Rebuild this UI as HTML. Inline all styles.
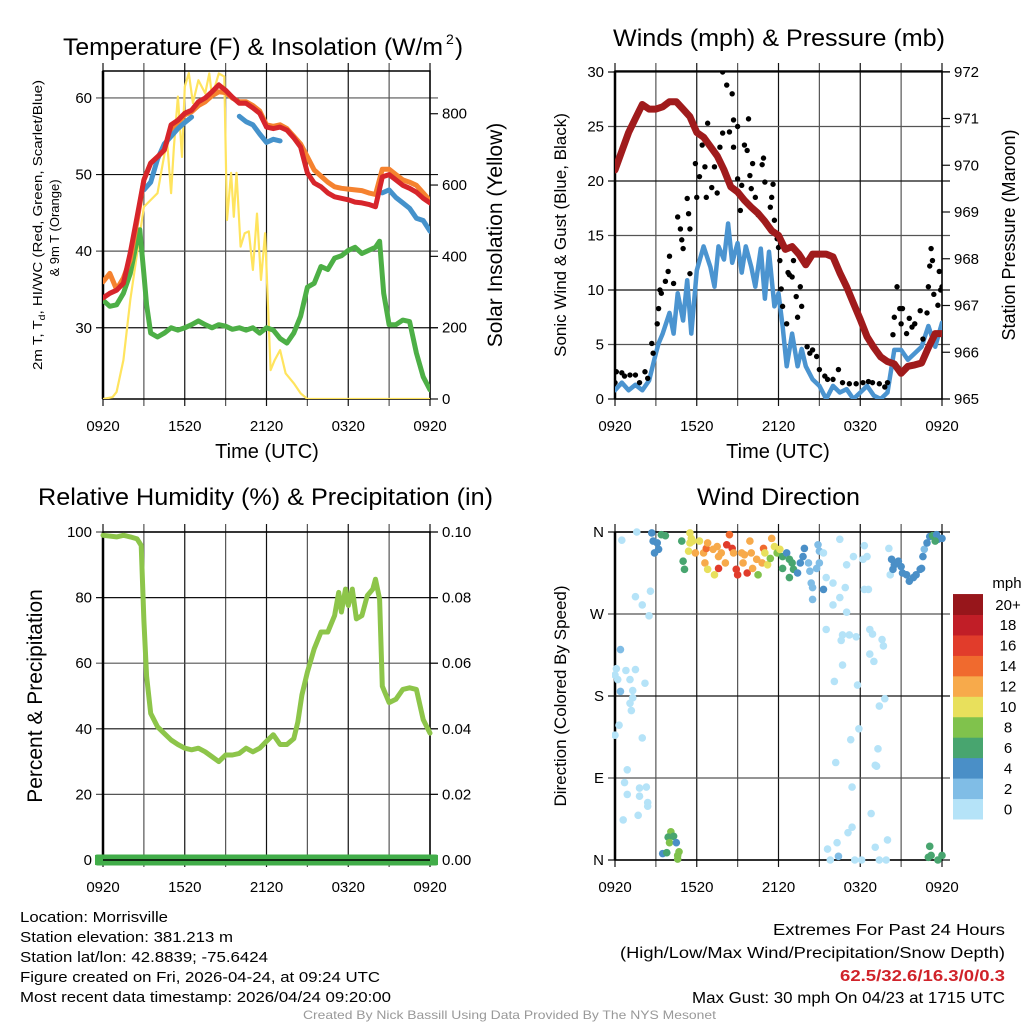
<!DOCTYPE html>
<html><head><meta charset="utf-8"><style>
html,body{margin:0;padding:0;background:#fff;}
svg{display:block;font-family:"Liberation Sans",Arial,sans-serif;}
</style></head><body>
<svg id="fig" width="1024" height="1024" viewBox="0 0 1024 1024" xmlns="http://www.w3.org/2000/svg">
<rect width="1024" height="1024" fill="#fff"/>
<defs>
<clipPath id="c1"><rect x="103" y="71" width="327" height="328"/></clipPath>
<clipPath id="c2"><rect x="615" y="71" width="327" height="328"/></clipPath>
<clipPath id="c3"><rect x="95" y="525" width="343" height="345"/></clipPath>
<clipPath id="c4"><rect x="612" y="528" width="334" height="336"/></clipPath>
</defs>
<g id="layer"></g>
<!-- titles -->
<text x="63" y="55" font-size="24" textLength="380" lengthAdjust="spacingAndGlyphs">Temperature (F) &amp; Insolation (W/m</text>
<text x="446" y="44" font-size="14">2</text>
<text x="455" y="55" font-size="24">)</text>
<text x="613" y="46" font-size="24" textLength="332" lengthAdjust="spacingAndGlyphs">Winds (mph) &amp; Pressure (mb)</text>
<text x="38" y="505" font-size="24" textLength="455" lengthAdjust="spacingAndGlyphs">Relative Humidity (%) &amp; Precipitation (in)</text>
<text x="697" y="505" font-size="24" textLength="163" lengthAdjust="spacingAndGlyphs">Wind Direction</text>
<!-- axis titles -->
<text x="267" y="458" font-size="20" text-anchor="middle">Time (UTC)</text>
<text x="778" y="458" font-size="20" text-anchor="middle">Time (UTC)</text>
<text transform="translate(42,370) rotate(-90)" font-size="13" textLength="290" lengthAdjust="spacingAndGlyphs">2m T, T<tspan font-size="9" dy="3">d</tspan><tspan dy="-3">, HI/WC (Red, Green, Scarlet/Blue)</tspan></text>
<text transform="translate(59,228) rotate(-90)" font-size="13" text-anchor="middle">&amp; 9m T (Orange)</text>
<text transform="translate(502,235) rotate(-90)" font-size="21" text-anchor="middle">Solar Insolation (Yellow)</text>
<text transform="translate(566,235) rotate(-90)" font-size="17" text-anchor="middle">Sonic Wind &amp; Gust (Blue, Black)</text>
<text transform="translate(1015,235) rotate(-90)" font-size="18" text-anchor="middle">Station Pressure (Maroon)</text>
<text transform="translate(42,696) rotate(-90)" font-size="21" text-anchor="middle">Percent &amp; Precipitation</text>
<text transform="translate(566,696) rotate(-90)" font-size="17" text-anchor="middle">Direction (Colored By Speed)</text>
<text x="1007" y="588" font-size="15" text-anchor="middle">mph</text>
<!-- footer -->
<g font-size="15">
<text x="20" y="922" textLength="148" lengthAdjust="spacingAndGlyphs">Location: Morrisville</text>
<text x="20" y="942" textLength="213" lengthAdjust="spacingAndGlyphs">Station elevation: 381.213 m</text>
<text x="20" y="962" textLength="248" lengthAdjust="spacingAndGlyphs">Station lat/lon: 42.8839; -75.6424</text>
<text x="20" y="982" textLength="360" lengthAdjust="spacingAndGlyphs">Figure created on Fri, 2026-04-24, at 09:24 UTC</text>
<text x="20" y="1002" textLength="371" lengthAdjust="spacingAndGlyphs">Most recent data timestamp: 2026/04/24 09:20:00</text>
</g>
<g font-size="16">
<text x="773" y="935" textLength="232" lengthAdjust="spacingAndGlyphs">Extremes For Past 24 Hours</text>
<text x="620" y="958" textLength="385" lengthAdjust="spacingAndGlyphs">(High/Low/Max Wind/Precipitation/Snow Depth)</text>
<text x="840" y="981" fill="#d0232a" font-weight="bold" textLength="165" lengthAdjust="spacingAndGlyphs">62.5/32.6/16.3/0/0.3</text>
<text x="692" y="1003" textLength="313" lengthAdjust="spacingAndGlyphs">Max Gust: 30 mph On 04/23 at 1715 UTC</text>
</g>
<text x="303" y="1019" font-size="12" fill="#999" textLength="413" lengthAdjust="spacingAndGlyphs">Created By Nick Bassill Using Data Provided By The NYS Mesonet</text>
</svg>
<script>
// ---------- data ----------
const xTickLabels = ["0920","1520","2120","0320","0920"];
const xTickHours = [0,6,12,18,24];
const tempTicks = [30,40,50,60];
const solarTicks = [0,200,400,600,800];
const windTicks = [0,5,10,15,20,25,30];
const pressureTicks = [965,966,967,968,969,970,971,972];
const rhTicks = [0,20,40,60,80,100];
const precipTickLabels = ["0.00","0.02","0.04","0.06","0.08","0.10"];
const dirTickLabels = ["N","E","S","W","N"];
const dirTickValues = [0,90,180,270,360];
const colorbarLabels = ["0","2","4","6","8","10","12","14","16","18","20+"];

const halfHours = [0,0.5,1,1.5,2,2.5,3,3.5,4,4.5,5,5.5,6,6.5,7,7.5,8,8.5,9,9.5,10,10.5,11,11.5,12,12.5,13,13.5,14,14.5,15,15.5,16,16.5,17,17.5,18,18.5,19,19.5,20,20.5,21,21.5,22,22.5,23,23.5,24];
const temp2m = [33.9,34.5,34.9,35.8,39.8,44.5,49.3,51.5,52.3,53.2,56.5,57.1,58,58.4,59.5,60,60.8,61.7,61,60.1,59.3,59.3,58.7,58,56.2,56,56.2,55.8,54.8,53.6,50.2,48.9,48.4,47.6,47.1,46.9,46.7,46.4,46.3,46.1,45.8,49.7,50,49.3,48.6,48.2,47.7,46.9,46.3];
const temp9m = [36,37.1,35,36.5,38.9,44,49.3,51.5,52.3,53.2,56,56.8,57.8,58.2,59,59.5,60.3,60.8,60.7,60,59.5,59.5,59,58.3,56.5,56.3,56.5,56,55,54,52.3,50.6,49.8,49,48.4,48.2,48.1,48,47.9,47.6,47.4,50.7,50.7,50,49.3,49,48.6,47.6,46.6];
const heatChill = [null,null,null,null,null,null,48,49,52,54,55,56,56.8,57.5,null,null,null,null,null,null,57.6,56.9,56.5,55.3,54.2,54.6,54.4,null,null,null,null,null,null,null,null,null,null,null,null,null,null,47.6,48,47,46.3,45.6,44.3,44,42.6];
const dewHours = [0,0.5,1,1.5,2,2.5,2.7,3,3.2,3.5,4,4.5,5,5.5,6,6.5,7,7.5,8,8.5,9,9.5,10,10.5,11,11.5,12,12.5,13,13.5,14,14.5,15,15.5,16,16.5,17,17.5,18,18.5,19,19.5,20,20.3,20.6,21,21.5,22,22.5,23,23.5,24];
const dewpoint = [33.6,32.8,33,34.5,37.1,41.5,42.8,37,33,29.3,28.8,29.3,30,29.7,30,30.4,30.9,30.4,30,30.4,30.2,29.8,30,29.7,30,29.3,30,29.7,28.6,28,29.3,31.5,35.3,35.8,38,37.6,39.1,39.4,40.1,40.5,39.7,40.1,40.5,41.3,34.5,30.4,30.4,31,30.8,26.7,23.6,21.9];
const solarHours = [0,0.7,1,1.5,2,2.5,3,3.5,4,4.3,4.7,5,5.2,5.5,5.8,6,6.3,6.6,7,7.5,7.8,8,8.5,8.9,9.1,9.4,9.6,9.8,10.1,10.4,10.7,11,11.3,11.6,11.9,12.3,12.6,13,13.4,14,14.5,15,24];
const solar = [0,5,20,109,278,409,539,558,577,642,726,577,707,848,679,876,914,830,894,857,913,848,913,904,502,634,511,634,427,465,470,362,520,334,465,81,109,137,72,44,16,0,0];

const pressure = [969.9,970.3,970.7,971.0,971.3,971.2,971.2,971.25,971.36,971.36,971.2,971.04,970.7,970.6,970.4,970.2,969.9,969.54,969.43,969.25,969.1,968.97,968.8,968.6,968.5,968.2,968.26,968.1,967.87,968.1,968.1,968.1,968.04,967.7,967.4,967.05,966.7,966.33,966.1,965.9,965.8,965.75,965.55,965.7,965.73,965.77,966.1,966.4,966.4];
const windHours = [0,0.5,1,1.5,2,2.5,3,3.2,3.5,4,4.3,4.6,5,5.3,5.6,6,6.5,7,7.3,7.6,8,8.3,8.6,9,9.3,9.6,10,10.3,10.7,11,11.3,11.7,12,12.3,12.6,13,13.4,13.7,14,14.5,15,15.5,16,16.5,17,17.5,18,18.5,19,19.5,20,20.5,21,21.5,22,22.5,23,23.5,24];
const windSpeed = [0.8,1.5,0.8,1.3,0.8,1.7,4.2,5.1,6,7.9,6,9.7,7.2,10.9,6,11.8,14,12.1,10.3,14,12.8,16.1,12.5,14.3,11.6,14,12.1,10.3,13.8,9.2,13.5,8.5,9.7,6.7,3,6,3,4.6,3,1.8,1.2,0,1.2,0.6,0.9,0,0.6,1.2,0.3,0,0.6,4.5,4.5,3.6,4.2,4.8,6.7,4.8,7];
const gustHours = [0,0.1,0.5,0.7,1.1,1.5,1.8,2.2,2.4,2.7,2.8,3.1,3.2,3.3,3.4,3.7,3.9,4.0,4.3,4.6,4.8,4.9,5.0,5.3,5.4,5.5,5.5,5.9,6.0,6.2,6.4,6.6,6.7,6.8,7.1,7.3,7.5,7.7,7.9,8.2,7.9,8.4,8.6,8.7,8.7,9.0,9.0,9.2,9.3,9.5,9.7,9.8,9.9,10.0,10.1,10.3,10.5,10.8,10.9,11.0,11.4,11.5,11.6,11.7,11.9,12.0,12.1,12.2,12.3,12.6,12.7,12.8,13.0,13.1,13.3,13.4,13.6,13.7,14.1,14.3,14.5,14.8,15.0,15.4,15.6,16.0,16.4,16.7,17.2,17.7,18.2,18.6,18.9,19.4,19.8,20.0,20.4,20.5,20.7,20.9,21.0,21.1,21.4,21.6,21.8,22.0,22.4,22.6,22.9,23.0,23.1,23.2,23.3,23.4,23.7,23.8,23.9,24.0];
const gustSpeed = [1.5,2.5,2.4,2.1,2.2,2.2,1.5,2.5,1.9,5.1,4.2,6.9,8.3,10,9.7,10.8,11.7,13.1,10.6,16.7,15.6,14.6,13.8,18.4,17,15.6,11.5,21.6,18.5,20.4,23.3,21.3,18.5,25.3,19.4,21.3,18.9,23.1,30,28.8,24.4,24.5,28,25.6,23.1,25,20.2,17.3,19.6,23.3,22.8,25.7,20.5,19.3,21.6,18.5,16.9,21.5,22.1,19.9,17.6,18.5,19.7,16.4,14.7,13.9,12.7,10.1,8.5,6.9,11.6,11.4,11.2,12.7,9.4,7.5,10.3,8.5,4.8,4.2,4.5,3.9,2.7,2.1,1.8,1.8,2.7,1.5,1.4,1.4,1.5,1.6,1.5,1.4,1.1,1.5,5.9,7.5,10.3,8.3,6.9,8.3,6,7.4,6.6,6.9,8.1,5.5,7.9,10.3,12.2,13.8,12.7,9.6,8.6,11.7,10,10.3];

const rhHours = [0,1,1.5,2,2.5,2.8,3,3.2,3.5,4,4.5,5,5.5,6,6.5,7,7.5,8,8.5,9,9.5,10,10.5,11,11.5,12,12.5,13,13.5,14,14.3,14.6,15,15.5,16,16.5,17,17.3,17.5,17.8,18,18.3,18.6,19,19.4,19.8,20,20.3,20.5,21,21.5,22,22.5,23,23.5,24];
const rh = [99,98.5,99,98.5,97.9,95.9,73,56,44.7,40.6,38.6,36.6,35.2,34.1,33.6,34.1,33,31.5,30,32,32,32.5,34.1,33,34.1,36.2,38.2,35.2,35.2,37,42,50.3,57.3,64.4,69.5,69.5,74.5,81.6,75.6,82.6,77.6,82.6,73.5,74.5,80.6,82.6,85.6,79.5,53,48,49,52,52.5,52,42.8,38.7];
const precipHours = [-0.4,24.4];
const precip = [0,0];

const dirHours = [0.5,1.6,2.7,2.8,3.1,2.9,3.2,3.4,3.7,1.5,2.0,2.6,2.5,0.4,0.1,0,0.2,0.8,1.1,1.5,0.4,1.3,1.3,1.1,1.2,2.2,0.3,0,2.0,0.9,0.7,0.9,1.8,2.3,1.8,2.4,2.4,1.7,0.6,
 4.1,4.0,3.9,4.3,4.0,4.5,3.5,3.8,4.7,4.6,4.6,
 4.9,5.0,5.1,5.5,5.5,5.4,5.6,5.7,5.9,6.2,6.5,6.6,6.7,6.8,7.2,7.5,7.6,7.6,7.8,8.1,8.2,8.4,8.6,8.7,8.9,9.0,9.3,9.4,9.5,9.7,9.9,10.0,10.1,10.4,10.5,10.8,10.9,11.0,11.2,11.4,11.5,11.7,11.9,12.1,7.3,6.8,
 12.3,12.6,12.8,13.0,12.3,12.8,13.1,13.4,13.6,13.8,13.9,14.2,14.3,14.4,14.5,14.9,15.0,15.3,15.0,14.8,15.3,14.5,15.5,16.0,16.5,16.9,16.5,16.0,17.0,17.5,17.0,18.3,18.5,18.2,18.3,18.6,20.1,20.2,
 15.5,16.6,16.7,17.2,17.7,18.7,18.9,19.6,19.7,18.7,19.0,16.7,16.1,17.8,19.8,19.4,17.9,17.3,19.3,16.2,19.1,19.2,17.4,18.8,17.4,17.1,16.3,15.6,16.4,15.8,17.6,18.1,19.4,19.9,19.1,20.0,
 20.3,20.5,20.8,21.0,20.4,21.1,21.4,21.6,21.9,22.1,22.4,22.5,22.6,22.7,22.9,23.1,23.3,23.6,23.7,24.0,23.5,
 23.1,23.0,23.2,23.7,24.0];
const dirDegrees = [351,360,359,350,348,337,341,357,356,289,280,295,268,231,210,203,198,208,198,209,185,186,178,172,164,194,148,137,134,99,85,72,79,80,70,63,59,49,44,
 31,26,25,26,19,19,7,8,9,5,1,
 350,328,319,359,348,339,353,350,337,350,337,326,342,348,341,344,333,320,337,326,346,357,342,337,319,313,337,326,335,315,350,337,320,330,313,326,342,337,324,331,353,344,337,341,313,319,
 333,337,330,326,320,310,319,315,326,333,342,326,317,304,299,346,339,337,326,320,297,286,310,304,352,299,288,280,272,333,324,345,333,330,297,297,342,313,
 253,241,247,247,245,253,248,242,235,226,218,214,196,192,177,169,144,132,122,107,104,103,80,51,36,30,19,12,4,0,0,0,0,0,14,22,
 330,324,328,322,319,315,313,306,310,313,319,320,333,341,348,355,356,357,352,353,350,
 15,3,5,0,5];
const dirSpeeds = [1,1,4,4,4,4,4,6,6,1,1,1,1,3,1,1,1,1,1,1,3,1,1,1,1,1,1,1,1,1,1,1,1,1,1,1,1,1,1,
 8,8,6,6,8,4,4,6,8,8,8,
 6,6,6,10,10,10,10,10,12,10,12,12,14,12,12,12,12,16,12,12,16,14,16,12,16,16,12,12,12,16,12,12,12,12,8,12,14,10,10,8,12,10,8,10,10,10,
 6,4,6,6,6,6,6,4,4,4,4,3,3,3,3,3,3,1,3,3,4,3,1,1,1,1,1,1,1,1,1,1,1,1,1,1,1,1,
 1,1,1,1,1,1,1,1,1,1,1,1,1,1,1,1,1,1,1,1,1,1,1,1,1,1,1,1,3,1,1,1,1,1,1,1,
 4,4,4,4,4,4,4,4,4,4,4,4,4,3,4,4,6,4,4,4,6,
 6,6,6,6,6];
const speedColors = ["#b5e3f8","#80bde6","#4a8fc7","#48a56f","#80c24c","#e8e05c","#f7aa4b","#f06a2e","#e13c2b","#c11e27","#97161b"];

// ---------- helpers ----------
const NS = "http://www.w3.org/2000/svg";
const layer = document.getElementById("layer");
function mk(tag, attrs, parent){
  const e = document.createElementNS(NS, tag);
  for (const k in attrs) e.setAttribute(k, attrs[k]);
  (parent||layer).appendChild(e);
  return e;
}
function hx(x0,x1){ return t => x0 + t*(x1-x0)/24; }
function linePath(xs, ys, fx, fy){
  let d = "", pen = false;
  for (let i=0;i<xs.length;i++){
    if (ys[i]===null || ys[i]===undefined){ pen=false; continue; }
    d += (pen?"L":"M") + fx(xs[i]).toFixed(1) + "," + fy(ys[i]).toFixed(1);
    pen = true;
  }
  return d;
}

function panelFrame(name, x0, x1, yT, yB, hTickVals, fy, leftLabels, rightVals, fyR, rightLabels){
  const fx = hx(x0,x1);
  const g = mk("g",{});
  
  
  // vertical grid lines every 3 hours
  for (let h=0; h<=24; h+=3){
    const l = mk("line",{x1:fx(h),x2:fx(h),y1:yT-8,y2:yB+7,stroke:(h%6===0)?"#111":"#555","stroke-width":1.2},g);
    
    
  }
  // horizontal grid lines
  hTickVals.forEach((v,i)=>{
    const y = fy(v);
    const l = mk("line",{x1:x0-7,x2:x1+8,y1:y,y2:y,stroke:(i%2)?"#555":"#111","stroke-width":1.2},g);
    
    
    const t = mk("text",{x:x0-11,y:y+5,"font-size":15,"text-anchor":"end"},g);
    t.textContent = leftLabels[i];
    
    
  });
  rightVals.forEach((v,i)=>{
    const y = fyR(v);
    const l = mk("line",{x1:x1,x2:x1+8,y1:y,y2:y,stroke:"#111","stroke-width":1.2},g);
    
    
    const t = mk("text",{x:x1+12,y:y+5,"font-size":15},g);
    t.textContent = rightLabels[i];
    
    
  });
  xTickHours.forEach((h,i)=>{
    const t = mk("text",{x:fx(h),y:yB+32,"font-size":15,"text-anchor":"middle"},g);
    t.textContent = xTickLabels[i];
    
    
  });
  const r = mk("rect",{x:x0,y:yT,width:x1-x0,height:yB-yT,fill:"none",stroke:"#000","stroke-width":1.5},g);
  
  
  mk("line",{x1:x0,x2:x0,y1:yT,y2:yB,stroke:"#000","stroke-width":2.5},g);
  return fx;
}

// ---------- panel 1: temperature ----------
const p1y = v => 399 - (v-20.7)*7.66;
const p1r = v => 399 - v*0.3566;
const fx1 = panelFrame("temperature", 103, 430, 71, 399, tempTicks, p1y, tempTicks.map(String), solarTicks, p1r, solarTicks.map(String));
const g1 = mk("g",{"clip-path":"url(#c1)",fill:"none","stroke-linejoin":"round","stroke-linecap":"round"});


let s;
s = mk("path",{d:linePath(solarHours,solar,fx1,p1r),stroke:"#ffe45e","stroke-width":2.2},g1);


s = mk("path",{d:linePath(dewHours,dewpoint,fx1,p1y),stroke:"#4daf46","stroke-width":5},g1);


s = mk("path",{d:linePath(halfHours,temp9m,fx1,p1y),stroke:"#f5822f","stroke-width":5},g1);


s = mk("path",{d:linePath(halfHours,heatChill,fx1,p1y),stroke:"#4592cb","stroke-width":5},g1);


s = mk("path",{d:linePath(halfHours,temp2m,fx1,p1y),stroke:"#d7252b","stroke-width":5},g1);



// ---------- panel 2: winds ----------
const p2y = v => 399 - v*10.9;
const p2r = p => 399 - (p-965)*46.75;
const fx2 = panelFrame("winds", 615, 942, 71, 399, windTicks, p2y, windTicks.map(String), pressureTicks, p2r, pressureTicks.map(String));
const g2 = mk("g",{"clip-path":"url(#c2)",fill:"none","stroke-linejoin":"round","stroke-linecap":"round"});


s = mk("path",{d:linePath(windHours,windSpeed,fx2,p2y),stroke:"#4b94d0","stroke-width":4.5},g2);


for (let i=0;i<gustHours.length;i++){
  const c = mk("circle",{cx:fx2(gustHours[i]),cy:p2y(gustSpeed[i]),r:2.7,fill:"#000"},g2);
  
  
}
s = mk("path",{d:linePath(halfHours,pressure,fx2,p2r),stroke:"#a01b1c","stroke-width":7},g2);



// ---------- panel 3: humidity ----------
const p3y = v => 860 - v*3.28;
const fx3 = panelFrame("humidity", 103, 430, 532, 860, rhTicks, p3y, rhTicks.map(String), rhTicks, p3y, precipTickLabels);
const g3 = mk("g",{"clip-path":"url(#c3)",fill:"none","stroke-linejoin":"round","stroke-linecap":"round"});


s = mk("path",{d:linePath(rhHours,rh,fx3,p3y),stroke:"#8dc54a","stroke-width":5},g3);


s = mk("path",{d:linePath(precipHours,precip.map(v=>v*1000),fx3,p3y),stroke:"#41ad49","stroke-width":11},g3);


mk("line",{x1:103,x2:430,y1:860,y2:860,stroke:"#000","stroke-width":1.5});

// ---------- panel 4: wind direction ----------
const p4y = d => 860 - d*(328/360);
const fx4 = panelFrame("direction", 615, 942, 532, 860, dirTickValues, p4y, dirTickLabels, [], p4y, []);
const g4 = mk("g",{"clip-path":"url(#c4)"});


for (let i=0;i<dirHours.length;i++){
  const idx = Math.min(10, Math.floor(dirSpeeds[i]/2));
  const c = mk("circle",{cx:fx4(dirHours[i]),cy:p4y(dirDegrees[i]),r:3.8,fill:speedColors[idx]},g4);
  
  
}
// colorbar
const cb = mk("g",{});


const cbBottom = 819, cbH = 20.45;
for (let i=0;i<speedColors.length;i++){
  const y = cbBottom - (i+1)*cbH;
  const r = mk("rect",{x:953,y:y,width:30,height:cbH+0.5,fill:speedColors[i]},cb);
  
  
  const t = mk("text",{x:1008,y:y+cbH/2+5.5,"font-size":15,"text-anchor":"middle"},cb);
  t.textContent = colorbarLabels[i];
  
  
}
</script>
</body></html>
